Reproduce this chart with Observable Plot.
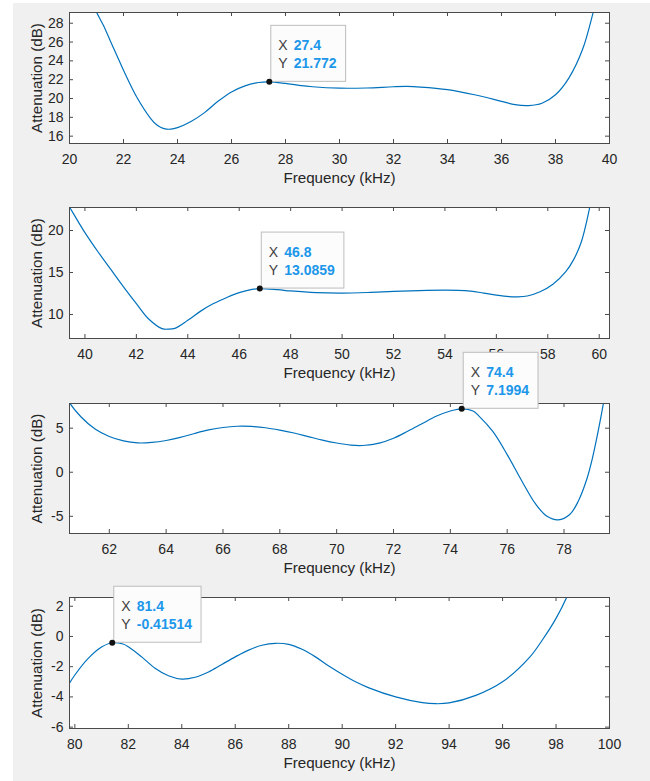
<!DOCTYPE html>
<html>
<head>
<meta charset="utf-8">
<script src="https://cdn.jsdelivr.net/npm/d3@7"></script>
<script src="https://cdn.jsdelivr.net/npm/@observablehq/plot@0.6"></script>
<style>
  html, body { margin: 0; padding: 0; background: #ffffff; overflow: hidden; }
  #fig { position: relative; width: 650px; height: 781px; overflow: hidden; }
  #bg { position: absolute; left: 13px; top: 3px; right: 0; bottom: 0; background: #f0f0f0; }
  .panel { position: absolute; left: 0; }
  .panel svg { overflow: visible; }
</style>
</head>
<body>
<div id="fig"><div id="bg"></div></div>
<script>
// Band 1: 20-40 kHz
const freq1  = [20.9, 21.0, 21.25, 21.5, 21.75, 22.0, 22.5, 23.0, 23.25, 23.5, 23.75, 24.0, 24.5, 25.0, 25.5, 26.0, 26.5, 27.0, 27.4, 28.0, 28.5, 29.0, 30.0, 31.0, 32.0, 32.5, 33.0, 34.0, 35.0, 36.0, 36.5, 37.0, 37.5, 38.0, 38.5, 39.0, 39.4, 39.6];
const atten1 = [30.0, 29.2, 27.8, 26.2, 24.6, 23.0, 20.1, 17.9, 17.15, 16.8, 16.74, 16.9, 17.55, 18.5, 19.7, 20.7, 21.35, 21.7, 21.772, 21.6, 21.4, 21.25, 21.1, 21.12, 21.25, 21.28, 21.22, 20.95, 20.4, 19.7, 19.35, 19.25, 19.5, 20.4, 22.2, 25.2, 29.2, 31.5];
const xTicks1 = [20, 22, 24, 26, 28, 30, 32, 34, 36, 38, 40];
const yTicks1 = [16, 18, 20, 22, 24, 26, 28];

// Band 2: 40-60 kHz
const freq2  = [39.2, 39.4, 39.75, 40.0, 40.5, 41.0, 41.5, 42.0, 42.5, 43.0, 43.25, 43.5, 44.0, 44.5, 45.0, 45.5, 46.0, 46.5, 46.8, 47.5, 48.0, 49.0, 50.0, 51.0, 52.0, 53.0, 54.0, 54.5, 55.0, 55.5, 56.0, 56.5, 56.8, 57.2, 57.7, 58.2, 58.7, 59.0, 59.3, 59.6, 59.8];
const atten2 = [23.8, 22.8, 21.0, 19.75, 17.5, 15.4, 13.3, 11.3, 9.4, 8.32, 8.25, 8.35, 9.3, 10.4, 11.3, 12.0, 12.6, 12.98, 13.0859, 12.95, 12.8, 12.6, 12.55, 12.62, 12.75, 12.85, 12.9, 12.88, 12.78, 12.55, 12.3, 12.12, 12.1, 12.2, 12.7, 13.6, 15.1, 16.5, 18.6, 22.3, 25.5];
const xTicks2 = [40, 42, 44, 46, 48, 50, 52, 54, 56, 58, 60];
const yTicks2 = [10, 15, 20];

// Band 3: 60-80 kHz
const freq3  = [60.4, 60.6, 61.0, 61.5, 62.0, 62.5, 63.0, 63.5, 64.0, 64.5, 65.0, 65.5, 66.0, 66.5, 67.0, 67.5, 68.0, 68.5, 69.0, 69.5, 70.0, 70.5, 70.8, 71.0, 71.5, 72.0, 72.5, 73.0, 73.5, 74.0, 74.4, 74.8, 75.0, 75.5, 76.0, 76.5, 77.0, 77.4, 77.8, 78.2, 78.5, 78.8, 79.0, 79.3, 79.5];
const atten3 = [9.3, 7.9, 6.3, 4.9, 4.05, 3.55, 3.33, 3.38, 3.6, 3.95, 4.4, 4.8, 5.08, 5.22, 5.2, 5.05, 4.78, 4.45, 4.05, 3.65, 3.32, 3.08, 3.03, 3.06, 3.3, 3.85, 4.65, 5.5, 6.35, 6.95, 7.1994, 6.95, 6.4, 4.6, 2.0, -0.9, -3.6, -5.0, -5.4, -4.8, -3.3, -0.8, 1.6, 6.3, 10.0];
const xTicks3 = [62, 64, 66, 68, 70, 72, 74, 76, 78];
const yTicks3 = [-5, 0, 5];

// Band 4: 80-100 kHz
const freq4  = [79.6, 79.8, 80.0, 80.5, 81.0, 81.4, 81.8, 82.0, 82.5, 83.0, 83.5, 84.0, 84.5, 85.0, 85.5, 86.0, 86.5, 87.0, 87.5, 88.0, 88.5, 89.0, 89.5, 90.0, 90.5, 91.0, 92.0, 93.0, 93.5, 94.0, 95.0, 96.0, 97.0, 97.5, 98.0, 98.4, 98.6];
const atten4 = [-3.8, -3.1, -2.55, -1.45, -0.7, -0.41514, -0.5, -0.68, -1.35, -2.1, -2.6, -2.82, -2.7, -2.35, -1.85, -1.35, -0.9, -0.58, -0.45, -0.52, -0.85, -1.35, -1.95, -2.5, -3.0, -3.4, -4.0, -4.38, -4.45, -4.4, -3.9, -3.0, -1.4, -0.2, 1.2, 2.6, 3.5];
const xTicks4 = [80, 82, 84, 86, 88, 90, 92, 94, 96, 98, 100];
const yTicks4 = [-6, -4, -2, 0, 2];

// Axis limits per band
const xLimits = [[20, 40], [39.4, 60.4], [60.6, 79.6], [79.8, 100]];
const yLimits = [[15.22, 29.14], [7.14, 22.74], [-6.95, 7.8], [-6.09, 2.58]];

// Data tips (marked samples)
const tipX = [27.4, 46.8, 74.4, 81.4];
const tipY = [21.772, 13.0859, 7.1994, -0.41514];

const FONT = "'Liberation Sans', Arial, Helvetica, sans-serif";
const INK = "#262626";
const AXIS = "#4a4a4a";
const LINE = "#0072bd";
const TIP_VALUE = "#1c97ea";
const W = 650, ML = 69, MR = 41;

const measureCtx = document.createElement("canvas").getContext("2d");
function textWidth(str, font) {
  measureCtx.font = font;
  return measureCtx.measureText(str).width;
}

// Data tip box anchored at the marked sample, drawn through the plot's scales
function dataTip(tx, ty) {
  return (index, scales) => {
    const px = scales.x(tx), py = scales.y(ty);
    const xs = String(tx), ys = String(ty);
    const fs = 14;
    const vw = Math.max(textWidth(xs, `bold ${fs}px ${FONT}`), textWidth(ys, `bold ${fs}px ${FONT}`));
    const left = px + 2, h = 56, top = py - h;
    const w = 23 + vw + 9;
    const g = d3.create("svg:g")
      .attr("font-family", FONT).attr("font-size", fs).attr("text-anchor", "start");
    g.append("rect")
      .attr("x", left).attr("y", top).attr("width", w).attr("height", h)
      .attr("fill", "#fcfcfc").attr("stroke", "#bdbdbd").attr("stroke-width", 1);
    const lines = [["X", xs, top + 20], ["Y", ys, top + 38]];
    for (const [lab, val, cy] of lines) {
      g.append("text").attr("x", left + 7.5).attr("y", cy).attr("dy", "0.36em")
        .attr("text-anchor", "start").attr("fill", "#404040").text(lab);
      g.append("text").attr("x", left + 23).attr("y", cy).attr("dy", "0.36em")
        .attr("text-anchor", "start").attr("fill", TIP_VALUE).attr("font-weight", "bold").text(val);
    }
    return g.node();
  };
}

function drawPanel(i, freq, atten, xTicks, yTicks, top, marginTop, innerH, marginBottom) {
  const height = marginTop + innerH + marginBottom;
  const innerW = W - ML - MR;
  const rows = freq.map((f, k) => ({f, a: atten[k]}));
  const tip = {x: tipX[i], y: tipY[i]};
  const fmt = d => String(d);
  const svg = Plot.plot({
    width: W, height,
    marginLeft: ML, marginRight: MR, marginTop, marginBottom,
    style: {background: "transparent", overflow: "visible", color: INK, fontFamily: FONT},
    x: {domain: xLimits[i]},
    y: {domain: yLimits[i]},
    marks: [
      Plot.frame({fill: "white", stroke: null}),
      Plot.line(rows, {x: "f", y: "a", stroke: LINE, strokeWidth: 1.2, curve: "catmull-rom", clip: true}),
      Plot.tickX(xTicks, {x: d => d, stroke: AXIS, insetTop: innerH - 4}),
      Plot.tickX(xTicks, {x: d => d, stroke: AXIS, insetBottom: innerH - 4}),
      Plot.tickY(yTicks, {y: d => d, stroke: AXIS, insetRight: innerW - 4}),
      Plot.tickY(yTicks, {y: d => d, stroke: AXIS, insetLeft: innerW - 4}),
      Plot.frame({stroke: AXIS, strokeWidth: 1}),
      Plot.axisX(xTicks, {tickSize: 0, tickPadding: 11, fontSize: 14, label: null, tickFormat: fmt}),
      Plot.axisY(yTicks, {tickSize: 0, tickPadding: 6, fontSize: 14, label: null, tickFormat: fmt}),
      Plot.text(["Frequency (kHz)"], {frameAnchor: "bottom", textAnchor: "middle", lineAnchor: "middle", dy: 35, fontSize: 15.2, fill: INK}),
      Plot.text(["Attenuation (dB)"], {frameAnchor: "left", textAnchor: "middle", lineAnchor: "middle", rotate: -90, dx: -32.5, fontSize: 15.2, fill: INK}),
      dataTip(tip.x, tip.y),
      Plot.dot([tip], {x: "x", y: "y", r: 3, fill: "#111111", stroke: null})
    ]
  });
  const holder = document.createElement("div");
  holder.className = "panel";
  holder.style.top = top + "px";
  holder.appendChild(svg);
  document.getElementById("fig").appendChild(holder);
}

drawPanel(0, freq1, atten1, xTicks1, yTicks1, 0, 12, 131, 52);
drawPanel(1, freq2, atten2, xTicks2, yTicks2, 195, 12, 131, 52);
drawPanel(2, freq3, atten3, xTicks3, yTicks3, 340, 63, 130, 52);
drawPanel(3, freq4, atten4, xTicks4, yTicks4, 575, 22, 131, 53);
</script>
</body>
</html>
